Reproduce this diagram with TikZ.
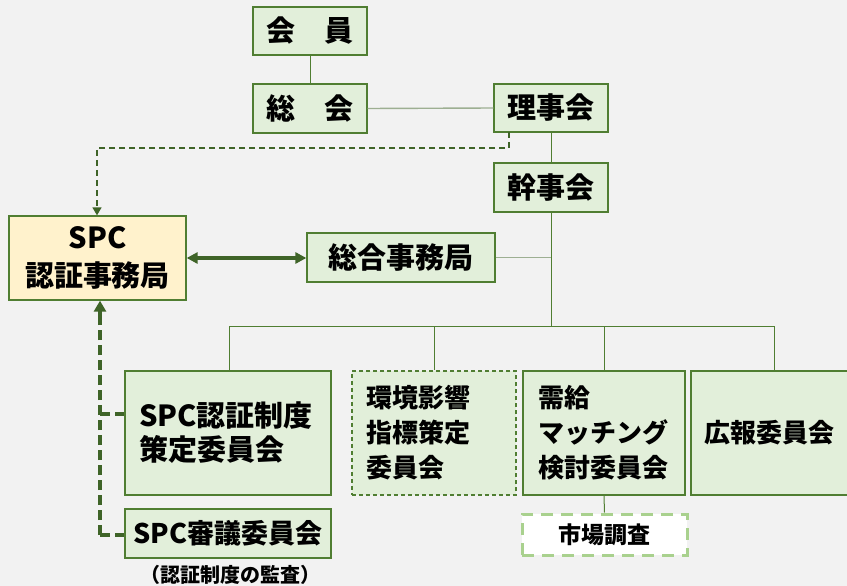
\documentclass[tikz,border=0pt]{standalone}
\usepackage{fontspec}
\setmainfont{Noto Sans CJK JP}
\usetikzlibrary{arrows.meta}
\definecolor{bg}{HTML}{F2F2F2}
\definecolor{boxfill}{HTML}{E2EFDA}
\definecolor{border}{HTML}{507E32}
\definecolor{spcfill}{HTML}{FFF2CC}
\definecolor{darkarrow}{HTML}{3F6428}
\definecolor{grayline}{HTML}{9DAF92}
\definecolor{lightdash}{HTML}{A9D18E}
\tikzset{
  box/.style={draw=border, line width=1.3pt, fill=boxfill, inner sep=0pt,
    font=\bfseries\fontsize{29}{34}\selectfont},
  midbox/.style={box, font=\bfseries\fontsize{26}{35}\selectfont},
  conn/.style={draw=border, line width=1pt},
  grayconn/.style={draw=grayline, line width=1.4pt},
  thinarrow/.style={draw=darkarrow, line width=1.3pt, dash pattern=on 6pt off 4pt,
    -{Triangle[width=9pt,length=8pt]}},
  thickdash/.style={draw=darkarrow, line width=3.2pt, dash pattern=on 10pt off 5pt},
  dbl/.style={draw=darkarrow, line width=3.2pt,
    {Triangle[width=11pt,length=11pt]}-{Triangle[width=11pt,length=11pt]}}
}
\begin{document}
\begin{tikzpicture}[x=1pt,y=-1pt]
\useasboundingbox (0,0) rectangle (847,586);
\fill[bg] (0,0) rectangle (847,586);

% top
\node[box, minimum width=114pt, minimum height=48pt] (kaiin) at (310,31) {会　員};
\node[box, minimum width=114pt, minimum height=49pt] (soukai) at (310,108.5) {総　会};
\node[box, minimum width=114pt, minimum height=48pt] (riji) at (551,108) {理事会};
\node[box, minimum width=114pt, minimum height=49pt] (kanji) at (551,187.5) {幹事会};
\node[box, minimum width=188pt, minimum height=49pt] (jimu) at (401,257.5) {総合事務局};
\node[box, fill=spcfill, minimum width=177pt, minimum height=84pt, align=center,
  font=\bfseries\fontsize{29}{38}\selectfont] (spc) at (97.5,258) {SPC\\認証事務局};

% committees
\node[box, text width=178pt, inner xsep=14pt, minimum height=124pt, align=left] (sakutei) at (228,433) {SPC認証制度\\策定委員会};
\node[midbox, dashed, dash pattern=on 4pt off 3pt, text width=136pt, inner xsep=14pt, minimum height=124pt, align=left] (kankyo) at (434,433) {環境影響\\指標策定\\委員会};
\node[midbox, text width=132pt, inner xsep=15pt, minimum height=124pt, align=left] (jukyu) at (604,433) {需給\\マッチング\\検討委員会};
\node[midbox, text width=144pt, inner xsep=13pt, minimum height=124pt, align=left] (koho) at (776,433) {広報委員会};
\node[box, minimum width=206pt, minimum height=49pt,
  font=\bfseries\fontsize{27}{32}\selectfont] (shingi) at (228,533.5) {SPC審議委員会};
\node[draw=lightdash, line width=3pt, dash pattern=on 12pt off 8pt, fill=white,
  minimum width=165pt, minimum height=41pt, inner sep=0pt,
  font=\bfseries\fontsize{23}{26}\selectfont] (shijo) at (604.5,534.5) {市場調査};
\node[font=\bfseries\fontsize{20}{22}\selectfont] (note) at (230,575) {（認証制度の監査）};

% connectors
\draw[conn] (kaiin.south) -- (soukai.north);
\draw[grayconn] (soukai.east) -- (riji.west);
\draw[conn] (riji.south) -- (kanji.north);
\coordinate (hub) at (551,326);
\draw[conn] (kanji.south) -- (hub);
\draw[grayconn] (jimu.east) -- (jimu.east -| hub);
\coordinate (busL) at (229,326);
\coordinate (busR) at (774,326);
\draw[conn] (busL) -- (busR);
\draw[conn] (busL) -- (busL |- sakutei.north);
\draw[conn] (kankyo.north |- hub) -- (kankyo.north);
\draw[conn] (jukyu.north |- hub) -- (jukyu.north);
\draw[conn] (busR) -- (busR |- koho.north);
\draw[conn] (jukyu.south) -- (shijo.north);

% dashed arrow riji -> spc
\coordinate (rj) at (509,132);
\coordinate (rk) at (509,148);
\coordinate (sk) at (97,148);
\draw[thinarrow] (rj) -- (rk) -- (sk) -- (spc.north -| sk);

% double arrow
\draw[dbl] (spc.east) -- (jimu.west |- spc.east);

% thick dashed from committees to spc
\coordinate (lb) at (100,535);
\coordinate (lm) at (100,414);
\draw[thickdash] (lb) -- (100,312);
\draw[draw=darkarrow, line width=3.2pt, -{Triangle[width=12pt,length=11pt]}] (100,316) -- (spc.south -| lb);
\draw[thickdash] (lm) -- (lm -| sakutei.west);
\draw[thickdash] (lb) -- (shingi.west |- lb);
\end{tikzpicture}
\end{document}
